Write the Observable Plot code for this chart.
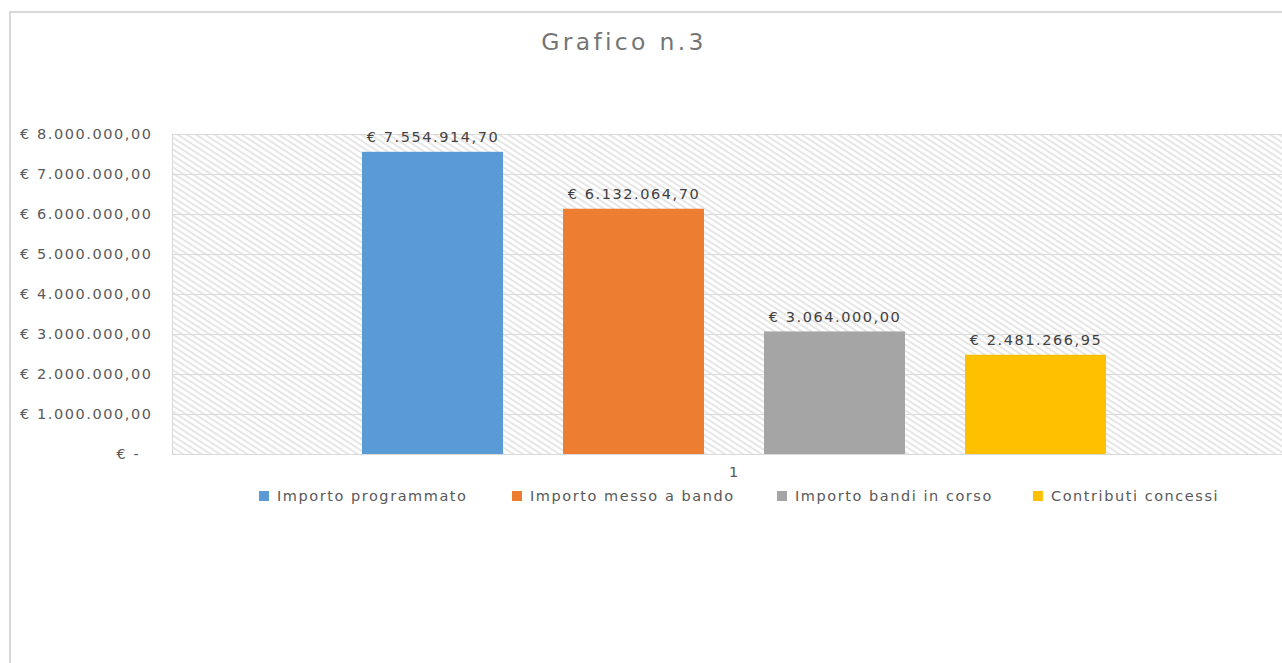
<!DOCTYPE html>
<html>
<head>
<meta charset="utf-8">
<script src="https://cdn.jsdelivr.net/npm/d3@7"></script>
<script src="https://cdn.jsdelivr.net/npm/@observablehq/plot@0.6"></script>
<style>
  html, body { margin: 0; padding: 0; background: #fff; }
  #page { position: relative; width: 1282px; height: 663px; overflow: hidden; font-family: "DejaVu Sans", sans-serif; }
  #frame { position: absolute; left: 9px; top: 11px; width: 1300px; height: 700px; border-left: 2px solid #d9d9d9; border-top: 2px solid #d9d9d9; box-sizing: border-box; }
  #title { position: absolute; top: 28px; left: 0; width: 1248px; text-align: center; font-size: 23.5px; letter-spacing: 3.3px; color: #757575; }
  #chart { position: absolute; left: 0; top: 0; }
  #legend { position: absolute; top: 488px; left: 259px; display: flex; font-size: 14.5px; letter-spacing: 1.55px; color: #595959; white-space: nowrap; }
  .item { display: flex; align-items: center; }
  .sw { width: 10px; height: 10px; margin-right: 8px; flex: none; }
</style>
</head>
<body>
<div id="page">
  <div id="frame"></div>
  <div id="title">Grafico n.3</div>
  <div id="chart"></div>
  <div id="legend"></div>
</div>
<script>
const series = ["Importo programmato", "Importo messo a bando", "Importo bandi in corso", "Contributi concessi"];
const values = [7554914.70, 6132064.70, 3064000.00, 2481266.95];
const colors = ["#5B9BD5", "#ED7D31", "#A5A5A5", "#FFC000"];
const yTicks = [0, 1000000, 2000000, 3000000, 4000000, 5000000, 6000000, 7000000, 8000000];
const categoryLabel = ["1"];

const it = d3.formatLocale({decimal: ",", thousands: ".", grouping: [3], currency: ["€ ", ""]});
const money = it.format("$,.2f");
const fmt = v => v === 0 ? "€ -\u00a0\u00a0" : money(v);

const data = series.map((s, i) => ({series: s, value: values[i]}));

const plot = Plot.plot({
  width: 1282,
  height: 484,
  marginTop: 134,
  marginLeft: 172,
  marginRight: 0,
  marginBottom: 30,
  style: {fontFamily: "DejaVu Sans, sans-serif", fontSize: "14.5px", letterSpacing: "1.55px", color: "#595959", background: "transparent", overflow: "visible"},
  x: {domain: series, range: [330.75, 1136.25], paddingInner: 0.3, paddingOuter: 0.15, axis: null},
  y: {domain: [0, 8000000], ticks: yTicks, axis: null, label: null},
  color: {domain: series, range: colors},
  marks: [
    Plot.frame({fill: "url(#hatch)", stroke: "#d9d9d9"}),
    Plot.gridY(yTicks, {stroke: "#d9d9d9", strokeOpacity: 1}),
    Plot.axisY(yTicks, {tickSize: 0, tickPadding: 20, tickFormat: fmt, label: null, fill: "#595959", fontSize: 14.5}),
    Plot.barY(data, {x: "series", y: "value", fill: "series"}),
    Plot.text(data, {x: "series", y: "value", text: d => money(d.value), dy: -10, lineAnchor: "bottom", fill: "#404040", fontSize: 14.5}),
    Plot.text(categoryLabel, {frameAnchor: "bottom", text: d => d, dx: 7, dy: 22, fill: "#595959", fontSize: 14.5})
  ]
});

const svg = d3.select(plot);
const defs = svg.insert("defs", ":first-child");
const pat = defs.append("pattern").attr("id", "hatch").attr("patternUnits", "userSpaceOnUse")
  .attr("width", 5).attr("height", 5).attr("patternTransform", "rotate(33)");
pat.append("rect").attr("width", 5).attr("height", 5).attr("fill", "#ffffff");
pat.append("rect").attr("width", 5).attr("height", 2).attr("fill", "#e6e6e6");

document.getElementById("chart").appendChild(plot);

const legend = d3.select("#legend");
const itemWidths = [253, 265, 256, null];
series.forEach((s, i) => {
  const item = legend.append("div").attr("class", "item");
  if (itemWidths[i]) item.style("width", itemWidths[i] + "px");
  item.append("div").attr("class", "sw").style("background", colors[i]);
  item.append("span").text(s);
});
</script>
</body>
</html>
